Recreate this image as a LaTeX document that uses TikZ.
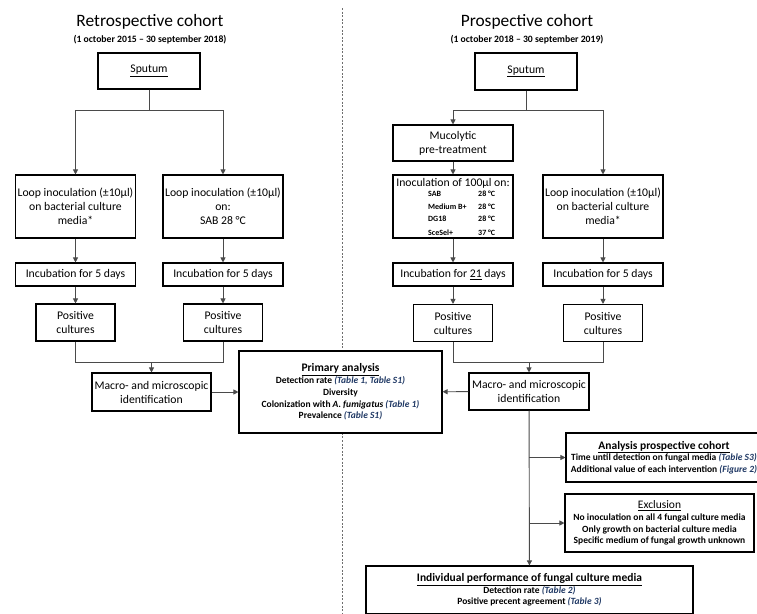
\documentclass[tikz,border=0pt]{standalone}
\usepackage{fontspec}
\setmainfont{Carlito}
\usetikzlibrary{arrows.meta}
\definecolor{refblue}{HTML}{1F3864}
\definecolor{linegray}{HTML}{4A4A4A}
\newcommand{\tref}[1]{{\color{refblue}\itshape #1}}
\newcommand{\boxhead}[1]{{\fontsize{11.5}{13.5}\selectfont\underline{#1}}}

\begin{document}
\begin{tikzpicture}[x=1pt, y=-1pt,
    >={Triangle[length=5pt, width=5pt]},
    box/.style={draw, line width=1.1pt, fill=white, inner sep=0pt, align=center,
        font=\fontsize{11.7}{14}\selectfont},
    info/.style={box, font=\fontsize{9.5}{11.7}\selectfont\bfseries},
    widebox/.style={minimum width=120pt, minimum height=63pt},
    flatbox/.style={minimum width=120pt, minimum height=23pt},
    posbox/.style={minimum width=79pt, minimum height=37pt},
    conn/.style={draw=linegray, line width=0.9pt}]
    \useasboundingbox (0, 0) rectangle (757, 613);
    \draw [linegray!80, dash pattern=on 2pt off 1.6pt, line width=0.9pt] (342, 8) -- (342, 613);

    % retrospective
    \node (titleL) at (150, 22) {\fontsize{17.4}{20}\selectfont Retrospective cohort};
    \node (dateL) at (150, 40) {\fontsize{9.7}{11}\selectfont\bfseries (1 october 2015 – 30 september 2018)};
    \node [box, minimum width=102pt, minimum height=36pt] (sputL) at (149, 71) {\underline{Sputum}};
    \node [box, widebox] (loopL) at (75.5, 206.5) {Loop inoculation (±10µl)\\on bacterial culture\\media*};
    \node [box, widebox] (loopS) at (223, 206.5) {Loop inoculation (±10µl)\\on:\\SAB 28 °C};
    \node [box, flatbox] (incL) at (75.5, 274.5) {Incubation for 5 days};
    \node [box, flatbox] (incS) at (223, 274.5) {Incubation for 5 days};
    \node [box, posbox] (posL) at (75.5, 322.5) {Positive\\cultures};
    \node [box, posbox] (posS) at (223, 322.5) {Positive\\cultures};
    \node [box, minimum width=119pt, minimum height=38pt] (macL) at (151.5, 392) {Macro- and microscopic\\identification};
    \coordinate (mergeL) at (151.5, 362);

    % prospective
    \node (titleR) at (527, 22) {\fontsize{17.4}{20}\selectfont Prospective cohort};
    \node (dateR) at (527, 40) {\fontsize{9.7}{11}\selectfont\bfseries (1 october 2018 – 30 september 2019)};
    \node [box, minimum width=102pt, minimum height=37pt] (sputR) at (526, 71.5) {\underline{Sputum}};
    \node [box, minimum width=120pt, minimum height=36pt] (muco) at (453, 143) {Mucolytic\\pre-treatment};
    \node [box, widebox] (inoc) at (453, 206.5) {};
    \node [font=\fontsize{11.7}{14}\selectfont] (inocHead) at (453, 183) {Inoculation of 100µl on:};
    \node [anchor=north west, inner sep=0pt, font=\fontsize{8}{12.5}\selectfont\bfseries] (inocMedia) at (428, 188)
        {\begin{tabular}{@{}p{50pt}@{}l@{}}
            SAB & 28 °C\\ Medium B+ & 28 °C\\ DG18 & 28 °C\\[1.5pt] SceSel+ & 37 °C
        \end{tabular}};
    \node [box, widebox] (loopR) at (603, 206.5) {Loop inoculation (±10µl)\\on bacterial culture\\media*};
    \node [box, flatbox] (inc21) at (453, 274.5) {Incubation for \underline{21} days};
    \node [box, flatbox] (incR) at (603, 274.5) {Incubation for 5 days};
    \node [box, posbox] (posR1) at (453, 323) {Positive\\cultures};
    \node [box, posbox] (posR2) at (603, 323) {Positive\\cultures};
    \node [box, minimum width=120pt, minimum height=37pt] (macR) at (529, 391.5) {Macro- and microscopic\\identification};
    \coordinate (mergeR) at (529, 362);

    % analyses
    \node [info, minimum width=203pt, minimum height=82pt] (prim) at (340.5, 392) {\boxhead{Primary analysis}\\
        Detection rate \tref{(Table 1, Table S1)}\\
        Diversity\\
        Colonization with \textit{A. fumigatus} \tref{(Table 1)}\\
        Prevalence \tref{(Table S1)}};
    \node [info, minimum width=196pt, minimum height=49pt] (anaP) at (664, 457.5) {\boxhead{Analysis prospective cohort}\\
        Time until detection on fungal media \tref{(Table S3)}\\
        Additional value of each intervention \tref{(Figure 2)}};
    \node [info, minimum width=189pt, minimum height=58pt] (excl) at (659.5, 523) {{\mdseries\boxhead{Exclusion}}\\
        No inoculation on all 4 fungal culture media\\
        Only growth on bacterial culture media\\
        Specific medium of fungal growth unknown};
    \node [info, minimum width=327pt, minimum height=48pt] (indiv) at (529.5, 590) {\boxhead{Individual performance of fungal culture media}\\
        Detection rate \tref{(Table 2)}\\
        Positive precent agreement \tref{(Table 3)}};

    % connectors
    \draw [conn, ->] (sputL.south) -- ++(0, 21) -| (loopL.north);
    \draw [conn, ->] (sputL.south) -- ++(0, 21) -| (loopS.north);
    \draw [conn, ->] (loopL) -- (incL);
    \draw [conn, ->] (loopS) -- (incS);
    \draw [conn, ->] (incL) -- (posL);
    \draw [conn, ->] (incS) -- (posS);
    \draw [conn] (posL.south) -- ++(0, 21) -| (posS.south);
    \draw [conn, ->] (mergeL) -- (macL);
    \draw [conn, ->] (macL) -- (prim);

    \draw [conn, ->] (sputR.south) -- ++(0, 20) -| (muco.north);
    \draw [conn, ->] (sputR.south) -- ++(0, 20) -| (loopR.north);
    \draw [conn, ->] (muco) -- (inoc);
    \draw [conn, ->] (inoc) -- (inc21);
    \draw [conn, ->] (loopR) -- (incR);
    \draw [conn, ->] (inc21) -- (posR1);
    \draw [conn, ->] (incR) -- (posR2);
    \draw [conn] (posR1.south) -- ++(0, 20.5) -| (posR2.south);
    \draw [conn, ->] (mergeR) -- (macR);
    \draw [conn, ->] (macR) -- (prim);
    \draw [conn, ->] (macR) -- (indiv);
    \draw [conn, ->] (macR.south |- anaP.west) -- (anaP.west);
    \draw [conn, ->] (macR.south |- excl.west) -- (excl.west);
\end{tikzpicture}
\end{document}
